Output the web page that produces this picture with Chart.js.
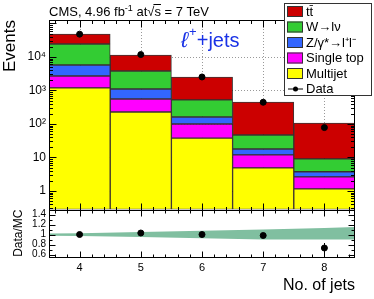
<!DOCTYPE html>
<html>
<head>
<meta charset="utf-8">
<script src="https://cdn.jsdelivr.net/npm/chart.js@4.4.0/dist/chart.umd.min.js"></script>
<style>
  html, body { margin: 0; padding: 0; background: #fff; }
</style>
</head>
<body>
<canvas id="jets" width="374" height="299"></canvas>
<script>
// jet multiplicity bins
const nJets = [4, 5, 6, 7, 8];

// MC contributions per bin (stacked bottom to top)
const multijet  = [1190, 228, 38, 4.9, 1.15];
const singleTop = [1520, 330, 62, 7.0, 1.5];
const zJets     = [3060, 550, 62, 6.0, 1.1];
const wJets     = [18600, 2710, 360, 29, 5.3];
const ttbar     = [24200, 7650, 2010, 407, 98];

// observed data
const dataCounts = [48000, 11800, 2530, 445, 78];
const dataErr    = [220, 110, 50, 21, 9];

// ratio panel
const ratio    = [1.0, 1.03, 1.0, 0.98, 0.73];
const ratioErr = [0.005, 0.01, 0.02, 0.04, 0.1];

// MC uncertainty band
const bandX    = [3.5, 4, 5, 6, 7, 8, 8.5];
const bandUp   = [1.02, 1.025, 1.05, 1.075, 1.1, 1.13, 1.15];
const bandDown = [0.975, 0.97, 0.95, 0.925, 0.9, 0.9, 0.9];

// tick labels
const yTicks = [1, 10, 100, 1000, 10000];
const yTickLabels = ['1', '10', '10²', '10³', '10⁴'];
const ratioTicks = [0.6, 0.8, 1, 1.2, 1.4];
const ratioTickLabels = ['0.6', '0.8', '1', '1.2', '1.4'];

const FONT = '"Liberation Sans", Arial, Helvetica, sans-serif';

function seg(ctx, x1, y1, x2, y2) {
    ctx.beginPath();
    ctx.moveTo(x1, y1);
    ctx.lineTo(x2, y2);
    ctx.stroke();
}

function barSet(label, values, color) {
    return {
        label: label,
        data: nJets.map((n, i) => ({ x: n, y: values[i] })),
        backgroundColor: color,
        borderColor: 'rgba(40,30,30,0.9)',
        borderWidth: 1,
        borderSkipped: false,
        grouped: false,
        barPercentage: 1,
        categoryPercentage: 1,
        yAxisID: 'y'
    };
}

// ROOT-like frame, inward ticks, grid, labels and legend
const rootStyle = {
    id: 'rootStyle',
    beforeDatasetsDraw(chart) {
        const { ctx, scales: { x, y } } = chart;
        ctx.save();
        ctx.strokeStyle = '#999';
        ctx.lineWidth = 1;
        ctx.setLineDash([1, 2]);
        nJets.forEach(v => {
            const px = Math.round(x.getPixelForValue(v)) + 0.5;
            seg(ctx, px, y.top, px, y.bottom);
        });
        yTicks.forEach(v => {
            const py = Math.round(y.getPixelForValue(v)) + 0.5;
            seg(ctx, x.left, py, x.right, py);
        });
        ctx.restore();
    },
    afterDatasetsDraw(chart) {
        const { ctx, scales: { x, y, yr } } = chart;
        ctx.save();
        ctx.strokeStyle = '#000';
        ctx.lineWidth = 1;

        // error bars
        nJets.forEach((n, i) => {
            const px = Math.round(x.getPixelForValue(n)) + 0.5;
            seg(ctx, px, y.getPixelForValue(dataCounts[i] - dataErr[i]), px, y.getPixelForValue(dataCounts[i] + dataErr[i]));
            seg(ctx, px, yr.getPixelForValue(ratio[i] - ratioErr[i]), px, yr.getPixelForValue(ratio[i] + ratioErr[i]));
        });

        // frame
        const L = x.left + 0.5, R = Math.round(x.right) - 0.5;
        const T = y.top + 0.5, M = Math.round(y.bottom) + 0.5, B = Math.round(yr.bottom) - 0.5;
        ctx.strokeRect(L, T, R - L, B - T);
        seg(ctx, L, M, R, M);

        // x ticks on all horizontal edges
        for (let v = 3.6; v < 8.45; v += 0.2) {
            const major = Math.abs(v - Math.round(v)) < 0.01;
            const px = Math.round(x.getPixelForValue(v)) + 0.5;
            const a = major ? 7 : 3.5, b = major ? 6 : 3;
            seg(ctx, px, T, px, T + a);
            seg(ctx, px, M, px, M - a);
            seg(ctx, px, M, px, M + b);
            seg(ctx, px, B, px, B - b);
        }
        // log y ticks
        for (let e = -1; e <= 5; e++) {
            for (let k = 1; k <= 9; k++) {
                const v = k * Math.pow(10, e);
                if (v < y.min || v > y.max) continue;
                const py = Math.round(y.getPixelForValue(v)) + 0.5;
                const len = k === 1 ? 7 : 3.5;
                seg(ctx, L, py, L + len, py);
                seg(ctx, R, py, R - len, py);
            }
        }
        // ratio y ticks
        for (let v = 0.6; v < 1.51; v += 0.1) {
            const major = Math.round(v * 10) % 2 === 0;
            const py = Math.round(yr.getPixelForValue(v)) + 0.5;
            const len = major ? 6 : 3;
            seg(ctx, L, py, L + len, py);
            seg(ctx, R, py, R - len, py);
        }

        // header
        ctx.fillStyle = '#000';
        ctx.textBaseline = 'alphabetic';
        let tx = 49;
        const base = 16;
        const put = (s, size, dy) => {
            ctx.font = size + 'px ' + FONT;
            ctx.fillText(s, tx, base + (dy || 0));
            const w = ctx.measureText(s).width;
            tx += w;
            return w;
        };
        put('CMS, 4.96 fb', 13);
        put('-1', 9, -5);
        put(' at', 13);
        put('√', 13);
        const sx = tx;
        const sw = put('s', 13);
        seg(ctx, sx - 1, 4.5, sx + sw, 4.5);
        put(' = 7 TeV', 13);

        // channel label
        ctx.fillStyle = 'rgb(25,50,230)';
        tx = 181;
        ctx.font = 'italic 22px ' + FONT;
        ctx.fillText('ℓ', tx, 47);
        tx += ctx.measureText('ℓ').width + 1;
        ctx.font = '13px ' + FONT;
        ctx.fillText('+', tx, 36);
        tx += ctx.measureText('+').width;
        ctx.font = '20px ' + FONT;
        ctx.fillText('+jets', tx, 47);
        ctx.restore();
    },
    afterDraw(chart) {
        const { ctx } = chart;
        const rows = [4, 3, 2, 1, 0, 5];
        ctx.save();
        ctx.fillStyle = '#fff';
        ctx.fillRect(284, 3, 88, 93);
        ctx.strokeStyle = '#333';
        ctx.lineWidth = 1;
        ctx.strokeRect(284.5, 3.5, 87, 92);
        ctx.font = '13px ' + FONT;
        ctx.textBaseline = 'middle';
        rows.forEach((di, k) => {
            const ds = chart.data.datasets[di];
            const cy = 11 + k * 15.5;
            if (ds.type === 'scatter') {
                ctx.strokeStyle = '#000';
                seg(ctx, 288, cy + 0.5, 303, cy + 0.5);
                ctx.fillStyle = '#000';
                ctx.beginPath();
                ctx.arc(295.5, cy + 0.5, 2.5, 0, Math.PI * 2);
                ctx.fill();
            } else {
                ctx.fillStyle = ds.backgroundColor;
                ctx.fillRect(287, cy - 5, 16, 11);
                ctx.strokeStyle = '#333';
                ctx.strokeRect(287.5, cy - 4.5, 15, 10);
            }
            ctx.fillStyle = '#000';
            ctx.fillText(ds.label, 306, cy + 1);
        });
        ctx.restore();
    }
};

new Chart(document.getElementById('jets'), {
    type: 'bar',
    data: {
        datasets: [
            barSet('Multijet', multijet, '#ffff00'),
            barSet('Single top', singleTop, '#ff00ff'),
            barSet('Z/γ*→l⁺l⁻', zJets, '#3366ff'),
            barSet('W→lν', wJets, '#33cc33'),
            barSet('tt̄', ttbar, '#cc0000'),
            {
                type: 'scatter',
                label: 'Data',
                data: nJets.map((n, i) => ({ x: n, y: dataCounts[i] })),
                yAxisID: 'y',
                order: -1,
                pointRadius: 3,
                backgroundColor: '#000',
                borderColor: '#000'
            },
            {
                type: 'line',
                label: 'MC unc. up',
                data: bandX.map((v, i) => ({ x: v, y: bandUp[i] })),
                yAxisID: 'yr',
                fill: '+1',
                backgroundColor: '#80bfa0',
                borderWidth: 0,
                pointRadius: 0
            },
            {
                type: 'line',
                label: 'MC unc. down',
                data: bandX.map((v, i) => ({ x: v, y: bandDown[i] })),
                yAxisID: 'yr',
                fill: false,
                borderWidth: 0,
                pointRadius: 0
            },
            {
                type: 'scatter',
                label: 'Data/MC',
                data: nJets.map((n, i) => ({ x: n, y: ratio[i] })),
                yAxisID: 'yr',
                order: -1,
                pointRadius: 3,
                backgroundColor: '#000',
                borderColor: '#000'
            }
        ]
    },
    options: {
        responsive: false,
        animation: false,
        devicePixelRatio: 1,
        layout: { padding: { top: 20, right: 19, left: 0, bottom: 0 } },
        plugins: {
            legend: { display: false },
            tooltip: { enabled: false },
            title: { display: false }
        },
        scales: {
            x: {
                type: 'linear',
                min: 3.5,
                max: 8.5,
                offset: false,
                grid: { display: false, drawTicks: false },
                border: { display: false },
                ticks: { padding: 3, autoSkip: false, color: '#000', font: { size: 11, family: FONT } },
                afterBuildTicks: s => { s.ticks = nJets.map(v => ({ value: v })); },
                afterFit: s => { s.height = 41; },
                title: {
                    display: true, text: 'No. of jets', align: 'end', color: '#000',
                    font: { size: 16, family: FONT }, padding: { top: 0, bottom: 4 }
                }
            },
            yr: {
                type: 'linear',
                position: 'left',
                stack: 'panels',
                stackWeight: 48.5,
                min: 0.53,
                max: 1.5,
                grid: { display: false, drawTicks: false },
                border: { display: false },
                ticks: {
                    padding: 3, autoSkip: false, color: '#000', font: { size: 10, family: FONT },
                    callback: v => ratioTickLabels[ratioTicks.indexOf(v)]
                },
                afterBuildTicks: s => { s.ticks = ratioTicks.map(v => ({ value: v })); },
                afterFit: s => { s.width = 49; },
                title: {
                    display: true, text: 'Data/MC', align: 'end', color: '#000',
                    font: { size: 12, family: FONT }, padding: { top: 11, bottom: 0 }
                }
            },
            y: {
                type: 'logarithmic',
                position: 'left',
                stack: 'panels',
                stackWeight: 189.5,
                stacked: true,
                min: 0.28,
                max: 127000,
                grid: { display: false, drawTicks: false },
                border: { display: false },
                ticks: {
                    padding: 3, autoSkip: false, color: '#000', font: { size: 12, family: FONT },
                    callback: v => yTickLabels[yTicks.indexOf(v)]
                },
                afterBuildTicks: s => { s.ticks = yTicks.map(v => ({ value: v })); },
                afterFit: s => { s.width = 49; },
                title: {
                    display: true, text: 'Events', align: 'end', color: '#000',
                    font: { size: 17, family: FONT }, padding: { top: 0, bottom: 0 }
                }
            }
        }
    },
    plugins: [rootStyle]
});
</script>
</body>
</html>
